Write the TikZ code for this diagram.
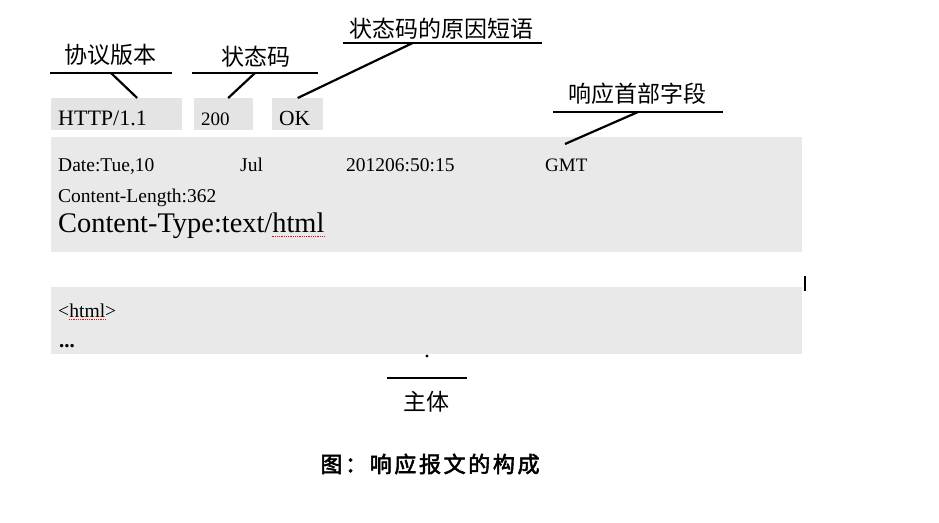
\documentclass[tikz,border=0pt]{standalone}
\usepackage{fontspec}
\setmainfont{Liberation Serif}
\newfontfamily\cjk{Noto Sans CJK SC}
\newfontfamily\cjkbf[FakeBold=2.5,LetterSpace=12]{Noto Sans CJK SC}
\usepackage{xcolor}
\usetikzlibrary{positioning, calc}
\definecolor{boxgray}{RGB}{228,228,228}
\definecolor{panelgray}{RGB}{233,233,233}

\begin{document}
\begin{tikzpicture}[
    x=1pt, y=-1pt,
    cnlabel/.style={font=\cjk\fontsize{23}{23}\selectfont, inner sep=0pt},
    field/.style={
        fill=boxgray, anchor=north west,
        inner xsep=7pt, inner ysep=0pt,
        text height=27pt, text depth=5pt, align=left
    },
    panel/.style={fill=panelgray, anchor=north west, inner sep=0pt},
    msg/.style={anchor=base west, inner sep=0pt},
    uline/.style={line width=2.4pt},
    pointer/.style={line width=2.2pt},
    squiggle/.style={red, densely dotted, line width=0.8pt},
]
\useasboundingbox (0,0) rectangle (939,522);

% ---------- Start line ----------
\node[field, text width=117pt, font=\fontsize{22}{22}\selectfont] (ver) at (51,98) {HTTP/1.1};
\node[field, text width=45pt, font=\fontsize{19}{19}\selectfont] (code) at (194,98) {200};
\node[field, text width=37pt, font=\fontsize{21.5}{21.5}\selectfont] (phrase) at (272,98) {OK};

% ---------- Header fields ----------
\node[panel, minimum width=751pt, minimum height=115pt] (header) at (51,137) {};
\node[msg, font=\fontsize{19.5}{19.5}\selectfont] (date) at (58,171) {Date:Tue,10};
\node[msg, font=\fontsize{19.5}{19.5}\selectfont] (month) at (240,171) {Jul};
\node[msg, font=\fontsize{19.5}{19.5}\selectfont] (time) at (346,171) {201206:50:15};
\node[msg, font=\fontsize{19}{19}\selectfont] (zone) at (545,171) {GMT};
\node[msg, font=\fontsize{19.5}{19.5}\selectfont] (clen) at (58,202) {Content-Length:362};
\node[msg, font=\fontsize{28.4}{28.4}\selectfont] (ctype) at (58,232) {Content-Type:text/html};
\draw[squiggle] ([xshift=-53pt, yshift=-4pt]ctype.base east) -- ([yshift=-4pt]ctype.base east);

% ---------- Body ----------
\node[panel, minimum width=751pt, minimum height=67pt] (body) at (51,287) {};
\node[msg, font=\fontsize{19.6}{19.6}\selectfont] (html) at (58,317) {<html>};
\draw[squiggle] ([xshift=11pt, yshift=-2pt]html.base west) -- ([xshift=-10pt, yshift=-2pt]html.base east);
\node[msg, font=\bfseries\fontsize{21}{21}\selectfont] (more) at (59,347) {...};
\fill (427,356) circle[radius=1.6pt];
\draw[line width=2.2pt] (805,276) -- (805,291);

% ---------- Labels ----------
\node[cnlabel] (verlbl) at (110,55) {协议版本};
\coordinate (verL) at (50,73);
\coordinate (verR) at (172,73);
\draw[uline] (verL) -- (verR);

\node[cnlabel] (codelbl) at (256,57) {状态码};
\coordinate (codeL) at (192,73);
\coordinate (codeR) at (318,73);
\draw[uline] (codeL) -- (codeR);

\node[cnlabel] (phraselbl) at (441,29) {状态码的原因短语};
\coordinate (phraseL) at (343,43);
\coordinate (phraseR) at (542,43);
\draw[uline] (phraseL) -- (phraseR);

\node[cnlabel] (headerlbl) at (637,94) {响应首部字段};
\coordinate (headerL) at (553,112);
\coordinate (headerR) at (723,112);
\draw[uline] (headerL) -- (headerR);

\coordinate (bodyL) at (387,378);
\coordinate (bodyR) at (467,378);
\draw[line width=1.3pt] (bodyL) -- (bodyR);
\node[cnlabel] (bodylbl) at (426,402) {主体};

% ---------- Pointers ----------
\draw[pointer] ($(verL)!0.5!(verR)$) -- ([xshift=20.5pt]ver.north);
\draw[pointer] ($(codeL)!0.5!(codeR)$) -- ([xshift=4.5pt]code.north);
\draw[pointer] ($(phraseL)!0.35!(phraseR)$) -- (phrase.north);
\draw[pointer] ($(headerL)!0.5!(headerR)$) -- ([xshift=514pt, yshift=-7pt]header.north west);

% ---------- Caption ----------
\node[font=\cjkbf\fontsize{22}{22}\selectfont, inner sep=0pt] (caption) at (430,464) {图：响应报文的构成};

\end{tikzpicture}
\end{document}
